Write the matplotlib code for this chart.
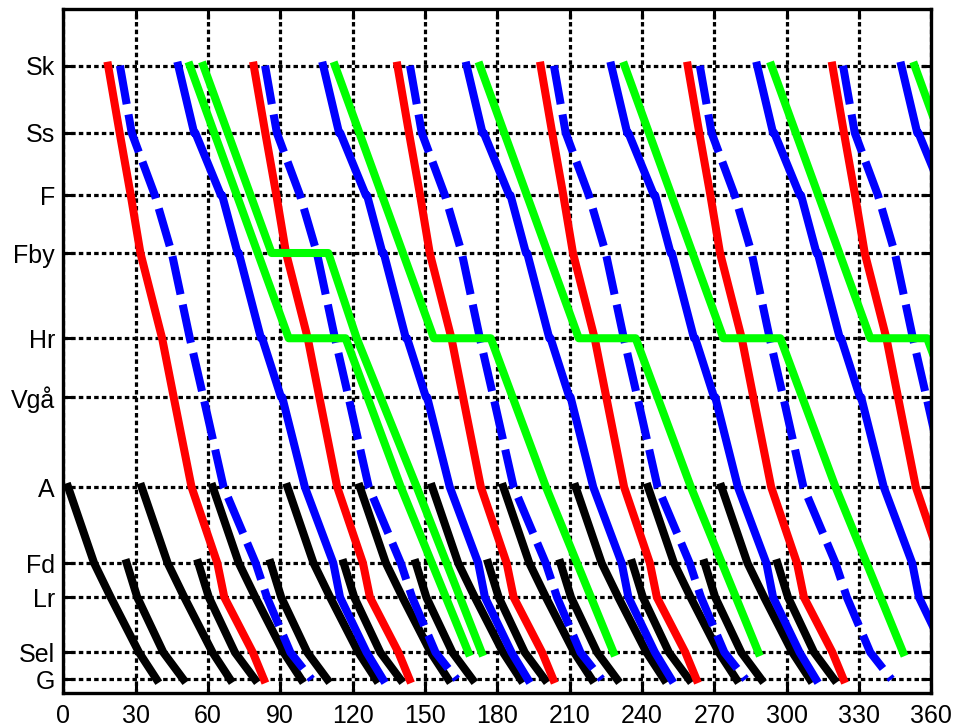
import numpy as np
import matplotlib.pyplot as plt

plt.rcParams['font.family'] = ['Liberation Sans', 'DejaVu Sans']

# stations along the line (km from G)
stations = ['G', 'Sel', 'Lr', 'Fd', 'A', 'Vgå', 'Hr', 'Fby', 'F', 'Ss', 'Sk']
station_km = [0, 20.0, 60.8, 86.2, 142.6, 209.3, 252.9, 316.1, 358.9, 405.1, 455]
km = dict(zip(stations, station_km))

# fast trains (red), minutes after departure from Sk
red_stops = ['Sk', 'Ss', 'F', 'Fby', 'Hr', 'Vgå', 'A', 'Fd', 'Lr', 'Sel', 'G']
red_min = [0, 4.8, 9.4, 13.4, 22.4, 27.2, 34.6, 45.3, 48.2, 60, 64.6]
red_dep = [18.6, 79, 138.6, 198, 259, 319]

# intercity (blue dashed)
ic_stops = ['Sk', 'Ss', 'F', 'Fby', 'Hr', 'Vgå', 'A', 'Fd', 'Lr', 'Sel', 'G']
ic_min = [0, 4.9, 14.5, 21.5, 29, 34.6, 43, 56.3, 61, 70.7, 79.5]
ic_dep = [23.5, 83.7, 143.8, 203.5, 264, 323.4]

# regional trains (blue), short stops on the way
reg_stops = ['Sk', 'Ss', 'Ss', 'F', 'F', 'Fby', 'Fby', 'Hr', 'Hr', 'Vgå', 'Vgå',
             'A', 'Fd', 'Lr', 'Sel', 'G']
reg_min = [0, 6.6, 7.1, 17.7, 18.2, 24.6, 25.1, 34.3, 34.8, 42.6, 43.1,
           52.5, 64.3, 67.1, 78.1, 84.9]
reg_dep = [47.7, 107.8, 167.3, 227.3, 287.8, 347.6]

# freight (green), waits at Hr, ends at Sel
frt_stops = ['Sk', 'Hr', 'Hr', 'A', 'Sel']
frt_min = [0, 41, 64.6, 87.5, 115.5]
frt_dep = [52.5, 112.7, 172.8, 232.8, 293.7, 353.1]
# extra freight waiting at Fby (absolute times)
frt2_stops = ['Sk', 'Fby', 'Fby', 'Hr', 'A', 'Sel']
frt2_t = [58.1, 86.4, 109.9, 121.7, 146.6, 173.5]

# commuter trains (black) A -> G and Fd -> G
comA_stops = ['A', 'Fd', 'Lr', 'Sel', 'G']
comA_min = [0, 10.8, 17.7, 29.4, 36.7]
comA_dep = [2, 32.5, 62, 93, 123, 153, 182.5, 212.5, 242.5, 273]
comF_stops = ['Fd', 'Lr', 'Sel', 'G']
comF_min = [0, 4.4, 15.2, 23.5]
comF_dep = [26.3, 56, 86, 116.3, 146.2, 176.2, 206.2, 236, 266, 296.2]

fig = plt.figure(figsize=(9.57, 7.27), dpi=100)
ax = fig.add_axes([0.0661, 0.0472, 0.907, 0.940])

lw = 5.8


def run(stops, mins, deps, **kw):
    y = [km[s] for s in stops]
    for d in deps:
        ax.plot(d + np.array(mins), y, **kw)


run(comA_stops, comA_min, comA_dep, color='k', lw=lw)
run(comF_stops, comF_min, comF_dep, color='k', lw=lw)
run(red_stops, red_min, red_dep, color='#ff0000', lw=lw)
run(ic_stops, ic_min, ic_dep, color='#0000ff', lw=lw, linestyle=(0, (4.85, 1.3)))
run(reg_stops, reg_min, reg_dep, color='#0000ff', lw=lw)
run(frt_stops, frt_min, frt_dep, color='#00ff00', lw=lw)
ax.plot(frt2_t, [km[s] for s in frt2_stops], color='#00ff00', lw=lw)

ax.set_xlim(0, 360)
ax.set_ylim(-9.9, 496.8)
ax.set_xticks(np.arange(0, 361, 30))
ax.set_yticks(station_km)
ax.set_yticklabels(stations)

ax.set_axisbelow(True)
ax.grid(True, color='k', linestyle=(0, (1.4, 1.0)), linewidth=2.3)
ax.tick_params(direction='in', length=7, width=2.2, top=True, right=True,
               labelsize=18, colors='k')
ax.tick_params(axis='x', pad=8)
ax.tick_params(axis='y', pad=6)
for s in ax.spines.values():
    s.set_linewidth(2.4)

fig.savefig('out.png', dpi=100)
